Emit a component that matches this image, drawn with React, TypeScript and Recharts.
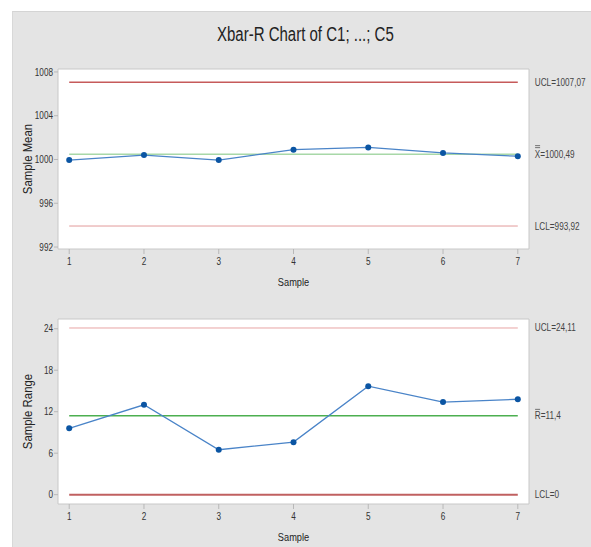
import React from "react";
import {
  LineChart,
  Line,
  XAxis,
  YAxis,
  ReferenceLine,
  ReferenceArea,
} from "recharts";

const samples = [1, 2, 3, 4, 5, 6, 7];
const sampleMeans = [999.95, 1000.4, 999.95, 1000.9, 1001.1, 1000.6, 1000.3];
const sampleRanges = [9.6, 13.0, 6.5, 7.6, 15.7, 13.4, 13.8];

const meanTicks = [992, 996, 1000, 1004, 1008];
const rangeTicks = [0, 6, 12, 18, 24];

const meanLimits = [1007.07, 1000.49, 993.92]; // UCL, center, LCL
const rangeLimits = [24.11, 11.4, 0];
const meanLimitText = ["UCL=1007,07", "X=1000,49", "LCL=993,92"];
const rangeLimitText = ["UCL=24,11", "R=11,4", "LCL=0"];

// no condensed font installed, so squeeze Liberation Sans horizontally
const FONT = "'Liberation Sans', Arial, sans-serif";
const SQ = 0.82;
const W = 591;

type Bar = "none" | "single" | "double";

function limitLabel(text: string, bar: Bar) {
  return (p: any) => {
    const vb = p.viewBox || {};
    const x = (vb.x ?? 0) + (vb.width ?? 0) + 17;
    const y = vb.y ?? 0;
    return (
      <g>
        <text
          transform={`translate(${x},${y}) scale(${SQ},1)`}
          dy={3.5}
          fontSize={10}
          fill="#444"
          fontFamily={FONT}
        >
          {text}
        </text>
        {bar !== "none" && (
          <line x1={x + 0.3} x2={x + 5.3} y1={y - 6.5} y2={y - 6.5} stroke="#555" strokeWidth={0.8} />
        )}
        {bar === "double" && (
          <line x1={x + 0.3} x2={x + 5.3} y1={y - 8.5} y2={y - 8.5} stroke="#555" strokeWidth={0.8} />
        )}
      </g>
    );
  };
}

const xTick = (p: any) => (
  <text
    transform={`translate(${p.x},${p.y}) scale(${SQ},1)`}
    textAnchor="middle"
    dy="0.71em"
    fontSize={10}
    fill="#333"
    fontFamily={FONT}
  >
    {p.payload.value}
  </text>
);

const yTick = (p: any) => (
  <text
    transform={`translate(${p.x},${p.y}) scale(${SQ},1)`}
    textAnchor="end"
    dy="0.355em"
    fontSize={10}
    fill="#333"
    fontFamily={FONT}
  >
    {p.payload.value}
  </text>
);

const xTitle = (p: any) => {
  const vb = p.viewBox || {};
  const x = (vb.x ?? 0) + (vb.width ?? 0) / 2;
  const y = (vb.y ?? 0) + (vb.height ?? 0);
  return (
    <text
      transform={`translate(${x},${y}) scale(0.84,1)`}
      textAnchor="middle"
      fontSize={11}
      fill="#222"
      fontFamily={FONT}
    >
      Sample
    </text>
  );
};

const yTitle = (text: string) => (p: any) => {
  const vb = p.viewBox || {};
  const x = (vb.x ?? 0) + 10;
  const y = (vb.y ?? 0) + (vb.height ?? 0) / 2;
  return (
    <text
      transform={`translate(${x},${y}) rotate(-90) scale(0.95,1)`}
      textAnchor="middle"
      dy="0.355em"
      fontSize={12}
      fill="#222"
      fontFamily={FONT}
    >
      {text}
    </text>
  );
};

type PanelProps = {
  values: number[];
  domain: [number, number];
  ticks: number[];
  yLabel: string;
  limits: number[];
  limitText: string[];
  centerBar: Bar;
  height: number;
  top: number;
  bottom: number;
  lineColors: string[];
  lineWidths: number[];
};

function Panel(props: PanelProps) {
  const data = samples.map((s, i) => ({ sample: s, value: props.values[i] }));
  return (
    <LineChart
      width={W}
      height={props.height}
      data={data}
      margin={{ top: props.top, right: 62, left: 18, bottom: props.bottom }}
    >
      <XAxis
        dataKey="sample"
        type="number"
        domain={[0.85, 7.15]}
        ticks={samples}
        tick={xTick}
        tickSize={5}
        tickMargin={4}
        axisLine={false}
        tickLine={{ stroke: "#b8b8b8" }}
        height={37}
        label={{ content: xTitle }}
      />
      <YAxis
        type="number"
        domain={props.domain}
        ticks={props.ticks}
        tick={yTick}
        tickSize={4}
        tickMargin={1}
        width={40}
        axisLine={false}
        tickLine={{ stroke: "#b8b8b8" }}
        allowDataOverflow
        label={{ content: yTitle(props.yLabel) }}
      />
      <ReferenceArea
        x1={0.85}
        x2={7.15}
        y1={props.domain[0]}
        y2={props.domain[1]}
        fill="#ffffff"
        fillOpacity={1}
        stroke="#c8c8c8"
        strokeWidth={1}
        ifOverflow="visible"
      />
      {props.limits.map((v, i) => (
        <ReferenceLine
          key={i}
          segment={[
            { x: 1, y: v },
            { x: 7, y: v },
          ]}
          stroke={props.lineColors[i]}
          strokeWidth={props.lineWidths[i]}
          ifOverflow="visible"
          label={limitLabel(props.limitText[i], i === 1 ? props.centerBar : "none")}
        />
      ))}
      <Line
        dataKey="value"
        stroke="#4a84c8"
        strokeWidth={1.3}
        dot={{ r: 3, fill: "#0b55a3", stroke: "#0b55a3", strokeWidth: 0, fillOpacity: 1 }}
        isAnimationActive={false}
      />
    </LineChart>
  );
}

export default function App() {
  return (
    <div
      style={{
        position: "absolute",
        left: 0,
        top: 0,
        width: W,
        height: 547,
        background: "#fff",
        overflow: "hidden",
      }}
    >
      <div
        style={{
          position: "absolute",
          left: 12,
          top: 11,
          right: 0,
          bottom: 0,
          background: "#e4e4e4",
          borderTop: "1px solid #d4d4d4",
          borderLeft: "1px solid #d8d8d8",
        }}
      />
      <div
        style={{
          position: "absolute",
          left: 12,
          right: 0,
          top: 23,
          textAlign: "center",
          fontFamily: FONT,
          fontSize: 20,
          color: "#222",
          transform: "scaleX(0.75)",
          transformOrigin: "305px 0",
        }}
      >
        Xbar-R Chart of C1; ...; C5
      </div>
      <div style={{ position: "absolute", left: 0, top: 0 }}>
        <Panel
          values={sampleMeans}
          domain={[991.82, 1008.27]}
          ticks={meanTicks}
          yLabel="Sample Mean"
          limits={meanLimits}
          limitText={meanLimitText}
          centerBar="double"
          height={300}
          top={69}
          bottom={14}
          lineColors={["#c65a5a", "#a8d8a8", "#e29a9a"]}
          lineWidths={[1.5, 1.5, 1]}
        />
      </div>
      <div style={{ position: "absolute", left: 0, top: 250 }}>
        <Panel
          values={sampleRanges}
          domain={[-1.35, 25.41]}
          ticks={rangeTicks}
          yLabel="Sample Range"
          limits={rangeLimits}
          limitText={rangeLimitText}
          centerBar="single"
          height={297}
          top={69}
          bottom={6}
          lineColors={["#e8a4a4", "#4caf50", "#c06060"]}
          lineWidths={[1, 1.5, 2]}
        />
      </div>
    </div>
  );
}
